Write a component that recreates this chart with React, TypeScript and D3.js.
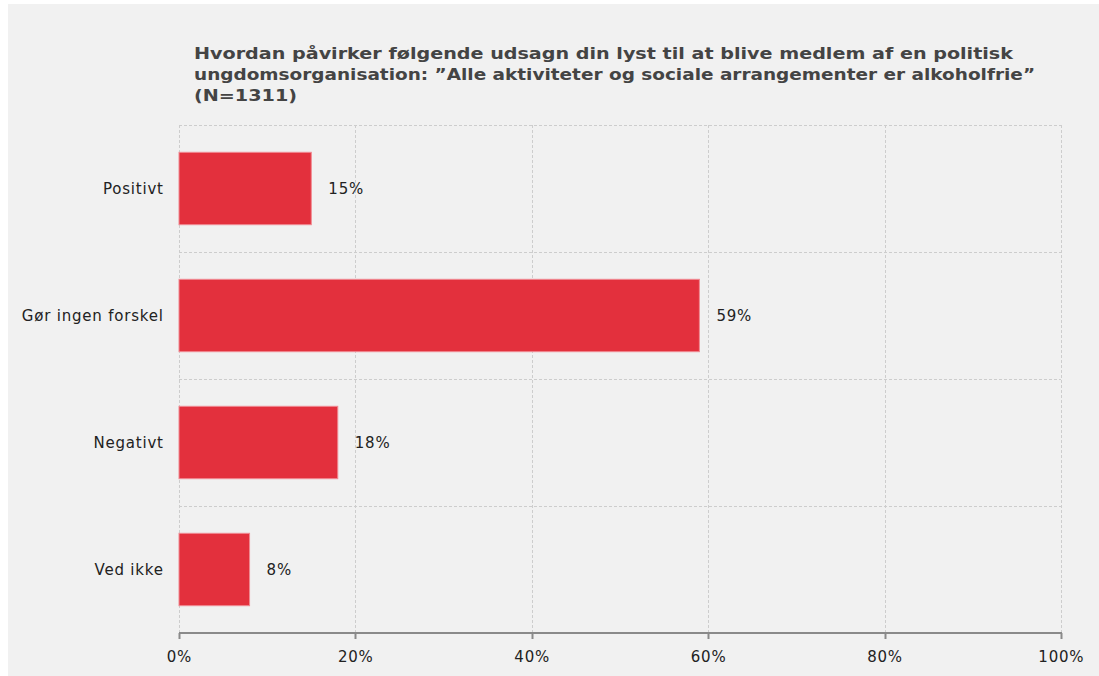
import React from "react";
import * as d3 from "d3";

const categories = ["Positivt", "Gør ingen forskel", "Negativt", "Ved ikke"];
const values = [15, 59, 18, 8];
const xTicks = [0, 20, 40, 60, 80, 100];
const titleLines = [
  "Hvordan påvirker følgende udsagn din lyst til at blive medlem af en politisk",
  "ungdomsorganisation: \u201dAlle aktiviteter og sociale arrangementer er alkoholfrie\u201d",
  "(N=1311)",
];

const W = 1099;
const H = 676;
const left = 179;
const right = 1061;
const top = 125;
const bottom = 633;
const FONT = "'DejaVu Sans', Verdana, sans-serif";
const titleWidths = [819, 841, 103];
const LS = 0.8;

export default function App() {
  const x = d3.scaleLinear().domain([0, 100]).range([left, right]);
  const y = d3
    .scaleBand<string>()
    .domain(categories)
    .range([top, bottom])
    .paddingInner(0.43)
    .paddingOuter(0.215);
  const step = y.step();
  const bounds = d3.range(categories.length + 1).map((i) => top + i * step);

  return (
    <svg
      width={W}
      height={H}
      style={{ position: "absolute", left: 0, top: 0, display: "block" }}
      fontFamily={FONT}
    >
      <rect x={0} y={0} width={W} height={H} fill="#ffffff" />
      <rect x={8} y={4} width={W - 8} height={H - 4} fill="#f1f1f1" />
      {titleLines.map((t, i) => (
        <text
          key={i}
          x={194}
          y={59 + i * 21}
          fontSize={16}
          fontWeight="bold"
          fill="#444444"
          textLength={titleWidths[i]}
          lengthAdjust="spacingAndGlyphs"
        >
          {t}
        </text>
      ))}
      {bounds.map((b, i) =>
        i < bounds.length - 1 ? (
          <line
            key={"h" + i}
            x1={left}
            x2={right}
            y1={b + 0.5}
            y2={b + 0.5}
            stroke="#cdcdcd"
            strokeDasharray="3,2"
          />
        ) : null
      )}
      {xTicks.map((t) => (
        <line
          key={"v" + t}
          x1={Math.round(x(t)) + 0.5}
          x2={Math.round(x(t)) + 0.5}
          y1={top}
          y2={bottom}
          stroke="#cdcdcd"
          strokeDasharray="3,2"
        />
      ))}
      {categories.map((c, i) => (
        <g key={c}>
          <rect
            x={x(0)}
            y={y(c)!}
            width={x(values[i]) - x(0)}
            height={y.bandwidth()}
            fill="#e3303d"
            stroke="#f08a92"
            strokeWidth={1}
          />
          <text
            x={x(values[i]) + 17}
            y={y(c)! + y.bandwidth() / 2}
            dy="0.35em"
            fontSize={15}
            fill="#222222"
            letterSpacing={LS}
          >
            {values[i] + "%"}
          </text>
          <text
            x={left - 16 + LS}
            y={y(c)! + y.bandwidth() / 2}
            dy="0.35em"
            fontSize={15}
            fill="#222222"
            textAnchor="end"
            letterSpacing={LS}
          >
            {c}
          </text>
        </g>
      ))}
      <line x1={left} x2={right + 1} y1={bottom} y2={bottom} stroke="#8a8a8a" strokeWidth={2} />
      {xTicks.map((t) => (
        <g key={"t" + t}>
          <line
            x1={Math.round(x(t)) + 0.5}
            x2={Math.round(x(t)) + 0.5}
            y1={bottom}
            y2={bottom + 6}
            stroke="#8a8a8a"
            strokeWidth={2}
          />
          <text
            x={x(t) + LS / 2}
            y={662}
            fontSize={15}
            fill="#222222"
            textAnchor="middle"
            letterSpacing={LS}
          >
            {t + "%"}
          </text>
        </g>
      ))}
    </svg>
  );
}
